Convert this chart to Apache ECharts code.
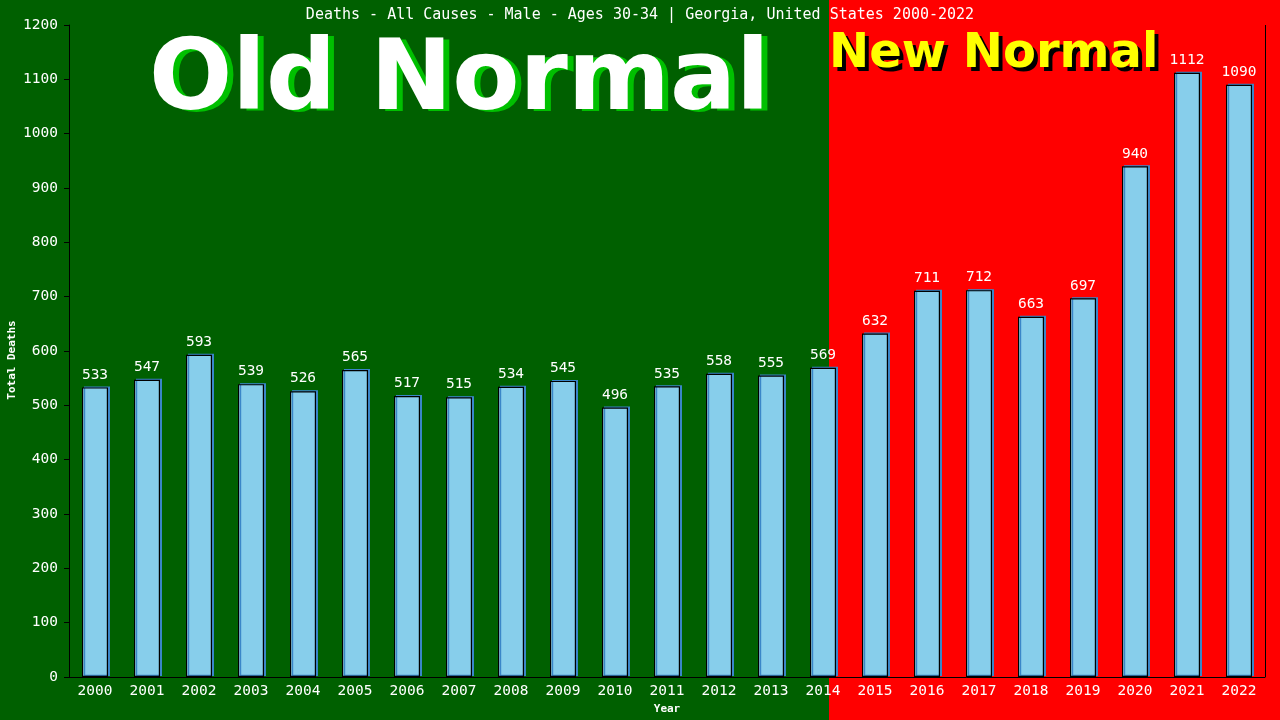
<!DOCTYPE html>
<html>
<head>
<meta charset="utf-8">
<script src="https://cdn.jsdelivr.net/npm/echarts@6/dist/echarts.min.js"></script>
<style>
html, body { margin: 0; padding: 0; background: #006000; }
#main { width: 1280px; height: 720px; }
</style>
</head>
<body>
<div id="main"></div>
<script>
var years = ['2000','2001','2002','2003','2004','2005','2006','2007','2008','2009','2010','2011',
             '2012','2013','2014','2015','2016','2017','2018','2019','2020','2021','2022'];
var deaths = [533, 547, 593, 539, 526, 565, 517, 515, 534, 545, 496, 535,
              558, 555, 569, 632, 711, 712, 663, 697, 940, 1112, 1090];

var mono = 'DejaVu Sans Mono';
var chart = echarts.init(document.getElementById('main'));

var option = {
    backgroundColor: '#006000',
    animation: false,
    title: {
        text: 'Deaths - All Causes - Male - Ages 30-34 | Georgia, United States 2000-2022',
        left: 'center',
        top: 3,
        textStyle: { color: '#fff', fontFamily: mono, fontSize: 15, fontWeight: 'normal' }
    },
    graphic: [
        { type: 'rect', z: -10, shape: { x: 0, y: 0, width: 829, height: 720 }, style: { fill: '#006000' } },
        { type: 'rect', z: -10, shape: { x: 829, y: 0, width: 451, height: 720 }, style: { fill: '#ff0000' } },
        { type: 'text', z: 1, left: 155, top: 37, style: { text: 'Old Normal', fill: '#00c000',
            font: 'bold 98px "DejaVu Sans"' } },
        { type: 'text', z: 2, left: 149, top: 35, style: { text: 'Old Normal', fill: '#fff',
            font: 'bold 98px "DejaVu Sans"' } },
        { type: 'text', z: 1, left: 833, top: 35, style: { text: 'New Normal', fill: '#000',
            font: 'bold 48px "DejaVu Sans"' } },
        { type: 'text', z: 2, left: 829, top: 31, style: { text: 'New Normal', fill: '#ffff00',
            font: 'bold 48px "DejaVu Sans"' } },
        { type: 'text', z: 3, left: 7, top: 'middle', rotation: Math.PI / 2,
            style: { text: 'Total Deaths', fill: '#fff', font: 'bold 11px "DejaVu Sans Mono"' } }
    ],
    grid: { left: 69, right: 15, top: 25, bottom: 43, containLabel: false, outerBoundsMode: 'none', show: false },
    xAxis: {
        type: 'category',
        data: years,
        name: 'Year',
        nameLocation: 'middle',
        nameGap: 27,
        nameTextStyle: { color: '#fff', fontFamily: mono, fontSize: 11, fontWeight: 'bold' },
        axisLine: { lineStyle: { color: '#000', width: 1 } },
        axisTick: { show: false },
        axisLabel: { color: '#fff', fontFamily: mono, fontSize: 14.5, margin: 7 }
    },
    yAxis: {
        type: 'value',
        min: 0,
        max: 1200,
        interval: 100,
        axisLine: { show: true, lineStyle: { color: '#000', width: 1 } },
        axisTick: { show: true, length: 5, lineStyle: { color: '#000' } },
        axisLabel: { color: '#fff', fontFamily: mono, fontSize: 14.5, margin: 11,
            formatter: function (v) { return String(v); } },
        splitLine: { show: false }
    },
    series: [
        {
            type: 'bar',
            data: deaths,
            barWidth: '50%',
            itemStyle: {
                color: '#87ceeb',
                borderColor: '#000',
                borderWidth: 1.2,
                shadowColor: '#3a86c8',
                shadowOffsetX: 2,
                shadowOffsetY: -1,
                shadowBlur: 0
            },
            label: {
                show: true,
                position: 'top',
                distance: 5,
                color: '#fff',
                fontFamily: mono,
                fontSize: 14.5
            }
        },
        {
            // right frame line
            type: 'line',
            data: [],
            markLine: {
                silent: true,
                symbol: 'none',
                label: { show: false },
                lineStyle: { color: '#000', type: 'solid', width: 1 },
                data: [[{ x: 1265, y: 677 }, { x: 1265, y: 25 }]]
            }
        }
    ]
};

chart.setOption(option);
</script>
</body>
</html>
